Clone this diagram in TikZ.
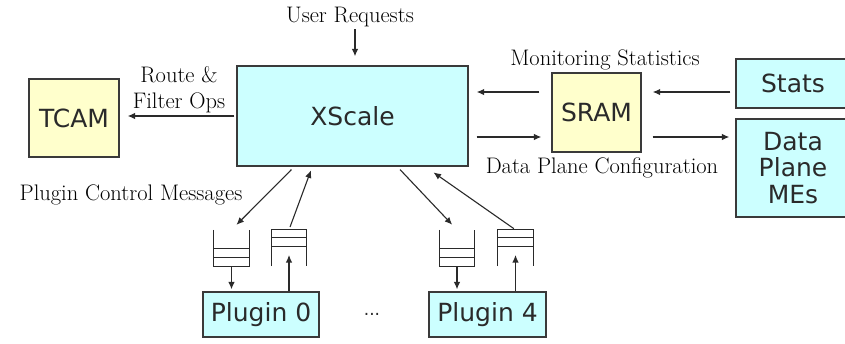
\documentclass[tikz,border=0pt]{standalone}
\usepackage{fontspec}
\newfontfamily\boxfont{DejaVu Sans}
\usetikzlibrary{arrows.meta,calc}
\definecolor{cyanfill}{HTML}{CCFFFF}
\definecolor{yellowfill}{HTML}{FFFFCC}
\definecolor{boxline}{HTML}{3A3A3A}
\definecolor{linegray}{HTML}{2A2A2A}
\definecolor{textgray}{HTML}{2A2A2A}
\begin{document}
\begin{tikzpicture}[x=1pt,y=-1pt,
  box/.style={draw=boxline, line width=1.4pt, inner sep=0pt, text=textgray, align=center,
    font=\boxfont\fontsize{25}{26.5}\selectfont},
  cyanbox/.style={box, fill=cyanfill},
  yellowbox/.style={box, fill=yellowfill},
  lbl/.style={font=\fontsize{22.5}{26}\selectfont, inner sep=0pt, text=black, align=center},
  arr/.style={draw=linegray, line width=1.1pt, -{Latex[length=7.5pt,width=6.5pt]}},
  qline/.style={draw=linegray, line width=1.1pt},
  qbox/.style={minimum width=35pt, minimum height=36pt, inner sep=0pt, draw=none}
]
\useasboundingbox (0,0) rectangle (845,343);
\fill[white] (0,0) rectangle (845,343);
\clip (0,0) rectangle (845,343);

% boxes
\node[yellowbox, minimum width=90pt, minimum height=78pt] (tcam) at (74,118) {TCAM};
\node[cyanbox, minimum width=231pt, minimum height=100pt] (xs) at (352.5,116) {XScale};
\node[yellowbox, minimum width=89pt, minimum height=79pt] (sram) at (596.5,112.5) {SRAM};
\node[cyanbox, minimum width=114pt, minimum height=49pt] (stats) at (793,83.5) {Stats};
\node[cyanbox, minimum width=114pt, minimum height=98pt] (dp) at (793,168) {Data\\Plane\\MEs};
\node[cyanbox, minimum width=116pt, minimum height=45pt] (p0) at (261,314.5) {Plugin 0};
\node[cyanbox, minimum width=117pt, minimum height=45pt] (p4) at (487.5,314.5) {Plugin 4};
\node[font=\boxfont\fontsize{17}{20}\selectfont, text=textgray, inner sep=0pt] (dots) at (372,314) {...};

% labels
\node[lbl] (ur) at (350,17) {User Requests};
\node[lbl] (rf) at (179,90) {Route \&\\Filter Ops};
\node[lbl] (ms) at (605,60) {Monitoring Statistics};
\node[lbl] (dpc) at (602,168) {Data Plane Configuration};
\node[lbl] (pcm) at (131,195) {Plugin Control Messages};

% queues
\node[qbox] (q1) at (231.5,248) {};
\node[qbox] (q2) at (289,248) {};
\node[qbox] (q3) at (457,248) {};
\node[qbox] (q4) at (515.5,248) {};
\foreach \q in {q1,q3}{
  \draw[qline] (\q.north west) -- (\q.south west) -- (\q.south east) -- (\q.north east);
  \draw[qline] ($(\q.south west)+(0,-9)$) -- ($(\q.south east)+(0,-9)$);
  \draw[qline] ($(\q.south west)+(0,-18)$) -- ($(\q.south east)+(0,-18)$);
}
\foreach \q in {q2,q4}{
  \draw[qline] (\q.south west) -- (\q.north west) -- (\q.north east) -- (\q.south east);
  \draw[qline] ($(\q.north west)+(0,8)$) -- ($(\q.north east)+(0,8)$);
  \draw[qline] ($(\q.north west)+(0,17)$) -- ($(\q.north east)+(0,17)$);
}

% connectors
\draw[arr, shorten <=2pt, shorten >=9pt] ([xshift=5pt]ur.south) -- ([xshift=5pt]ur.south |- xs.north);
\draw[arr, shorten <=2pt, shorten >=8pt] (xs.west) -- (tcam.east |- xs.west);
\draw[arr, shorten <=12pt, shorten >=8pt] ($(sram.west)+(0,-20.5)$) -- ($(sram.west -| xs.east)+(0,-20.5)$);
\draw[arr, shorten <=8pt, shorten >=10pt] ($(xs.east |- sram.west)+(0,24.5)$) -- ($(sram.west)+(0,24.5)$);
\draw[arr, shorten <=5pt, shorten >=11pt] ($(stats.west |- sram.east)+(0,-20.5)$) -- ($(sram.east)+(0,-20.5)$);
\draw[arr, shorten <=11pt, shorten >=6pt] ($(sram.east)+(0,24.5)$) -- ($(dp.west |- sram.east)+(0,24.5)$);

\draw[arr, shorten <=4pt, shorten >=7pt] ($(xs.south west)+(58,0)$) -- (q1.north);
\draw[arr, shorten <=3pt, shorten >=4pt] (q2.north) -- ($(xs.south west)+(76,0)$);
\draw[arr, shorten <=4pt, shorten >=7pt] ($(xs.south west)+(161,0)$) -- (q3.north);
\draw[arr, shorten <=2pt, shorten >=10pt] (q4.north) -- ($(xs.south west)+(189,0)$);

\draw[arr, shorten >=2pt] (q1.south) -- (q1.south |- p0.north);
\draw[arr] (q2.south |- p0.north) -- ($(q2.center)+(0,7)$);
\draw[arr, shorten >=2pt] (q3.south) -- (q3.south |- p4.north);
\draw[arr] (q4.south |- p4.north) -- ($(q4.center)+(0,7)$);
\end{tikzpicture}
\end{document}
